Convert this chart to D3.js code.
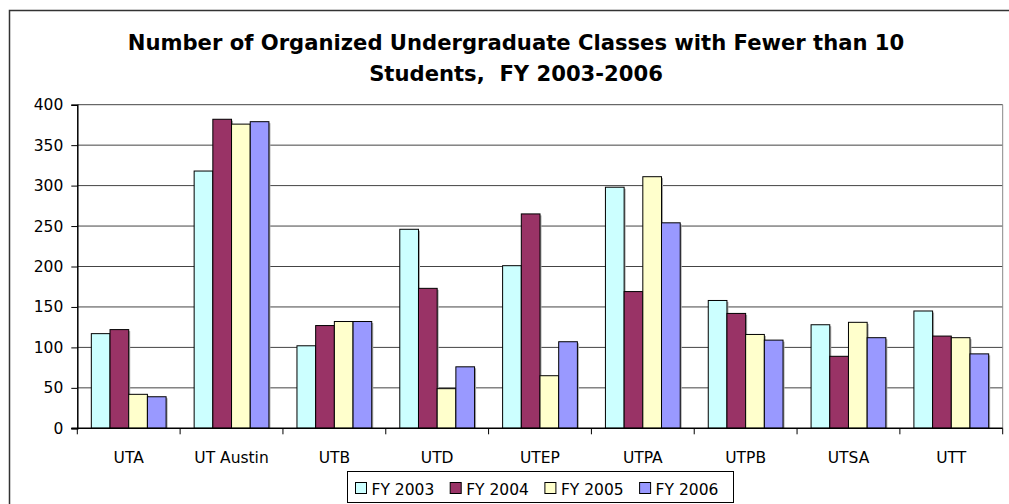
<!DOCTYPE html>
<html>
<head>
<meta charset="utf-8">
<script src="https://cdn.jsdelivr.net/npm/d3@7"></script>
<style>
  body { margin: 0; background: #fff; }
  svg { display: block; font-family: "DejaVu Sans", Verdana, sans-serif; }
</style>
</head>
<body>
<script>
"use strict";

// chart data
const campuses = ["UTA", "UT Austin", "UTB", "UTD", "UTEP", "UTPA", "UTPB", "UTSA", "UTT"];
const years = ["FY 2003", "FY 2004", "FY 2005", "FY 2006"];
const fy2003 = [117, 318, 102, 246, 201, 298, 158, 128, 145];
const fy2004 = [122, 382, 127, 173, 265, 169, 142, 89, 114];
const fy2005 = [42, 376, 132, 49, 65, 311, 116, 131, 112];
const fy2006 = [39, 379, 132, 76, 107, 254, 109, 112, 92];
const yTicks = [0, 50, 100, 150, 200, 250, 300, 350, 400];
const colors = ["#CCFFFF", "#993366", "#FFFFCC", "#9999FF"];

const seriesValues = [fy2003, fy2004, fy2005, fy2006];

const W = 1009, H = 504;
const plot = {left: 77.3, right: 1002.7, top: 104.7, bottom: 428.3};

const svg = d3.select("body").append("svg")
    .attr("width", W)
    .attr("height", H);

// outer chart frame
svg.append("rect")
    .attr("x", 9.5).attr("y", 10.5)
    .attr("width", 1010).attr("height", 510)
    .attr("fill", "#fff")
    .attr("stroke", "#333")
    .attr("stroke-width", 1.5);

// title
const title = svg.append("text")
    .attr("text-anchor", "middle")
    .attr("font-weight", "bold")
    .attr("font-size", 20)
    .attr("fill", "#000")
    .style("white-space", "pre");
title.append("tspan").attr("x", 516).attr("y", 50)
    .text("Number of Organized Undergraduate Classes with Fewer than 10");
title.append("tspan").attr("x", 516).attr("y", 81)
    .text("Students,  FY 2003-2006");
// squeeze to the reference width
const tw = title.node().getBBox().width;
title.attr("font-size", 20 * 777 / tw);

let x = d3.scaleBand()
    .domain(campuses)
    .range([plot.left, plot.right]);

let x1 = d3.scaleBand()
    .domain(years)
    .range([0, x.bandwidth()])
    .paddingOuter(0.75);

let y = d3.scaleLinear()
    .domain([0, 400])
    .range([plot.bottom, plot.top]);

// gridlines
svg.append("g")
    .selectAll("line")
    .data(yTicks.filter(d => d > 0))
    .enter()
    .append("line")
    .attr("x1", plot.left).attr("x2", plot.right)
    .attr("y1", d => y(d)).attr("y2", d => y(d))
    .attr("stroke", "#444")
    .attr("stroke-width", 1);

// right border of plot area
svg.append("line")
    .attr("x1", plot.right).attr("x2", plot.right)
    .attr("y1", plot.top).attr("y2", plot.bottom)
    .attr("stroke", "#888");

// bars
const groups = svg.append("g")
    .selectAll("g")
    .data(campuses)
    .enter()
    .append("g")
    .attr("transform", d => "translate(" + x(d) + ",0)");

years.forEach(function(yr, s){
    groups.append("rect")
        .attr("x", x1(yr) + 1.5)
        .attr("y", (d, i) => y(seriesValues[s][i]) + 1.5)
        .attr("width", x1.bandwidth())
        .attr("height", (d, i) => plot.bottom - y(seriesValues[s][i]) - 1.5)
        .attr("fill", "#aaa");
    groups.append("rect")
        .attr("x", x1(yr))
        .attr("y", (d, i) => y(seriesValues[s][i]))
        .attr("width", x1.bandwidth())
        .attr("height", (d, i) => plot.bottom - y(seriesValues[s][i]))
        .attr("fill", colors[s])
        .attr("stroke", "#000")
        .attr("stroke-width", 1);
});

// y axis
let yAxis = d3.axisLeft(y)
    .tickValues(yTicks)
    .tickSize(6)
    .tickPadding(8);
const yg = svg.append("g")
    .attr("transform", "translate(" + plot.left + ",0)")
    .call(yAxis);
yg.select(".domain").attr("stroke", "#000").attr("stroke-width", 1.5);
yg.selectAll(".tick line").attr("stroke", "#000");
yg.selectAll("text")
    .attr("font-family", "DejaVu Sans")
    .attr("font-size", 15.5)
    .attr("fill", "#000");

// x axis: line, boundary ticks, centred labels
svg.append("line")
    .attr("x1", plot.left - 6).attr("x2", plot.right)
    .attr("y1", plot.bottom).attr("y2", plot.bottom)
    .attr("stroke", "#000").attr("stroke-width", 1.5);

svg.append("g")
    .selectAll("line")
    .data(campuses.concat(["end"]))
    .enter()
    .append("line")
    .attr("x1", (d, i) => plot.left + i * x.step())
    .attr("x2", (d, i) => plot.left + i * x.step())
    .attr("y1", plot.bottom).attr("y2", plot.bottom + 6)
    .attr("stroke", "#000");

svg.append("g")
    .selectAll("text")
    .data(campuses)
    .enter()
    .append("text")
    .attr("x", d => x(d) + x.bandwidth() / 2)
    .attr("y", 462.5)
    .attr("text-anchor", "middle")
    .attr("font-size", 15.5)
    .attr("fill", "#000")
    .text(d => d);

// legend
const legend = svg.append("g");
legend.append("rect")
    .attr("x", 347.5).attr("y", 471.5)
    .attr("width", 386).attr("height", 31)
    .attr("fill", "#fff")
    .attr("stroke", "#000");

const items = legend.selectAll("g")
    .data(years)
    .enter()
    .append("g")
    .attr("transform", (d, i) => "translate(" + (355 + i * 94.7) + ",0)");
items.append("rect")
    .attr("x", 0.5).attr("y", 482.5)
    .attr("width", 11).attr("height", 11)
    .attr("fill", (d, i) => colors[i])
    .attr("stroke", "#000");
items.append("text")
    .attr("x", 16.5)
    .attr("y", 494.5)
    .attr("font-size", 15.5)
    .attr("fill", "#000")
    .text(d => d);
</script>
</body>
</html>
